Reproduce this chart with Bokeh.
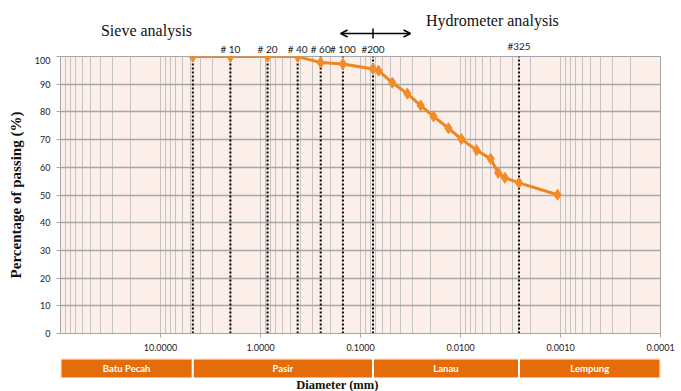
import numpy as np
from bokeh.plotting import figure
from bokeh.layouts import column
from bokeh.models import Range1d, FixedTicker, PrintfTickFormatter, Label, Arrow, OpenHead, ColumnDataSource
from bokeh.core.properties import value
from bokeh.embed import file_html
from bokeh.resources import INLINE

# ---- data ----
sieve_names = ["", "# 10", "# 20", "# 40", "# 60", "# 100", "#200"]
sieve_sizes = [4.75, 2.0, 0.85, 0.425, 0.25, 0.15, 0.075]
sieve_passing = [100, 100, 100, 100, 97.8, 97.3, 95.5]
hydro_sizes = [0.066, 0.048, 0.034, 0.025, 0.0186, 0.0132, 0.0098, 0.0069,
               0.0050, 0.0042, 0.0036, 0.0026, 0.00107]
hydro_passing = [94.9, 90.5, 86.6, 82.3, 78.4, 74.1, 70.2, 66.2,
                 63.1, 58.0, 56.2, 54.4, 50.1]
no325_name = "#325"
no325_size = 0.0026
x_ticks = [10, 1, 0.1, 0.01, 0.001, 0.0001]
y_ticks = list(range(0, 101, 10))
soil_classes = ["Batu Pecah", "Pasir", "Lanau", "Lempung"]
class_bounds = [100, 4.75, 0.075, 0.0026, 0.0001]

ORANGE = "#F0851D"
BAND = "#E46C0A"
W = 681
LB, RB = 60, 21

xr = Range1d(100, 0.0001)
x_minor = [m * 10.0 ** e for e in range(-4, 2) for m in range(2, 10)]
xticker = FixedTicker(ticks=x_ticks, minor_ticks=x_minor)

# ---- top annotation strip ----
top = figure(width=W, height=56, x_axis_type="log", x_range=xr, y_range=Range1d(3, 59),
             x_axis_location=None, y_axis_location=None, output_backend="svg",
             toolbar_location=None, min_border_left=LB, min_border_right=RB,
             min_border_top=0, min_border_bottom=0, outline_line_color=None)
top.grid.visible = False
top.text(x=sieve_sizes[1:], y=[11] * (len(sieve_sizes) - 1), text=sieve_names[1:],
         text_font=value("Lato"), text_font_size="10px", text_color="#222222",
         text_align="center", text_baseline="middle")
top.text(x=[no325_size], y=[14], text=[no325_name], text_font=value("Lato"),
         text_font_size="10px", text_color="#222222", text_align="center",
         text_baseline="middle")
top.add_layout(Label(x=13.8, y=29, text="Sieve analysis", text_font="Liberation Serif",
                     text_font_size="16px", text_align="center", text_baseline="middle",
                     text_color="#111111"))
top.add_layout(Label(x=0.0048, y=39, text="Hydrometer analysis", text_font="Liberation Serif",
                     text_font_size="16px", text_align="center", text_baseline="middle",
                     text_color="#111111"))
top.add_layout(Arrow(x_start=0.158, y_start=26, x_end=0.0316, y_end=26,
                     start=OpenHead(size=7, line_width=1.5), end=OpenHead(size=7, line_width=1.5),
                     line_width=1.5, line_color="black"))
top.segment(x0=[sieve_sizes[-1]], y0=[21], x1=[sieve_sizes[-1]], y1=[31],
            line_color="black", line_width=1.5)

# ---- main chart ----
p = figure(width=W, height=302, x_axis_type="log", x_range=xr, y_range=Range1d(0, 100),
           output_backend="svg", toolbar_location=None, min_border_left=LB,
           min_border_right=RB, min_border_top=0, min_border_bottom=25,
           background_fill_color="#FCEEE8", border_fill_color="white",
           outline_line_color="#A6A6A6")
p.xaxis.ticker = xticker
p.xaxis.formatter = PrintfTickFormatter(format="%.4f")
p.xaxis.minor_tick_line_color = None
p.xaxis.major_tick_out = 4
p.xaxis.major_tick_in = 0
p.xaxis.major_label_standoff = 6
p.yaxis.ticker = FixedTicker(ticks=y_ticks)
p.yaxis.minor_tick_line_color = None
p.yaxis.major_tick_out = 4
p.yaxis.major_tick_in = 0
p.yaxis.major_label_standoff = 6
for ax in (p.xaxis, p.yaxis):
    ax.axis_line_color = "#A6A6A6"
    ax.major_tick_line_color = "#A6A6A6"
    ax.major_label_text_font = "Lato"
    ax.major_label_text_font_size = "9px"
    ax.major_label_text_color = "#222222"
p.yaxis.axis_label = "Percentage of passing (%)"
p.yaxis.axis_label_text_font = "Liberation Serif"
p.yaxis.axis_label_text_font_style = "bold"
p.yaxis.axis_label_text_font_size = "15px"
p.yaxis.axis_label_text_color = "#111111"
p.yaxis.axis_label_standoff = 8

p.xgrid.ticker = xticker
p.xgrid.grid_line_color = "#C4C4C4"
p.xgrid.minor_grid_line_color = "#C4C4C4"
p.xgrid.grid_line_width = 1
p.ygrid.ticker = FixedTicker(ticks=y_ticks)
p.ygrid.grid_line_color = "#A6A6A6"
p.ygrid.grid_line_width = 1.5

dash_x = sieve_sizes + [no325_size]
p.segment(x0=dash_x, y0=[0] * len(dash_x), x1=dash_x, y1=[100] * len(dash_x),
          line_color="black", line_width=2, line_dash="2 2")

all_sizes = sieve_sizes + hydro_sizes
all_passing = sieve_passing + hydro_passing
src = ColumnDataSource(dict(d=all_sizes, pct=all_passing))
p.line("d", "pct", source=src, line_color=ORANGE, line_width=3)
p.scatter("d", "pct", source=src, marker="diamond", size=11, fill_color="#F28C28",
          line_color="#F28C28")

# ---- soil class band ----
band = figure(width=W, height=33, x_axis_type="log", x_range=xr, y_range=Range1d(0, 33),
              x_axis_location=None, y_axis_location=None, output_backend="svg",
              toolbar_location=None, min_border_left=LB, min_border_right=RB,
              min_border_top=0, min_border_bottom=0, outline_line_color=None)
band.grid.visible = False
band.quad(left=class_bounds[:-1], right=class_bounds[1:], bottom=13, top=33,
          fill_color=BAND, line_color="white", line_width=2)
mids = [np.sqrt(a * b) for a, b in zip(class_bounds[:-1], class_bounds[1:])]
band.text(x=mids, y=[23] * len(mids), text=soil_classes, text_font=value("Lato"),
          text_font_size="9.5px", text_font_style="bold", text_color="white",
          text_align="center", text_baseline="middle")
band.add_layout(Label(x=0.17, y=7, text="Diameter (mm)", text_font="Liberation Serif",
                      text_font_size="12.5px", text_font_style="bold", text_align="center",
                      text_baseline="middle", text_color="#111111"))

layout = column(top, p, band, spacing=0)
open("out.html", "w").write(file_html(layout, INLINE))
